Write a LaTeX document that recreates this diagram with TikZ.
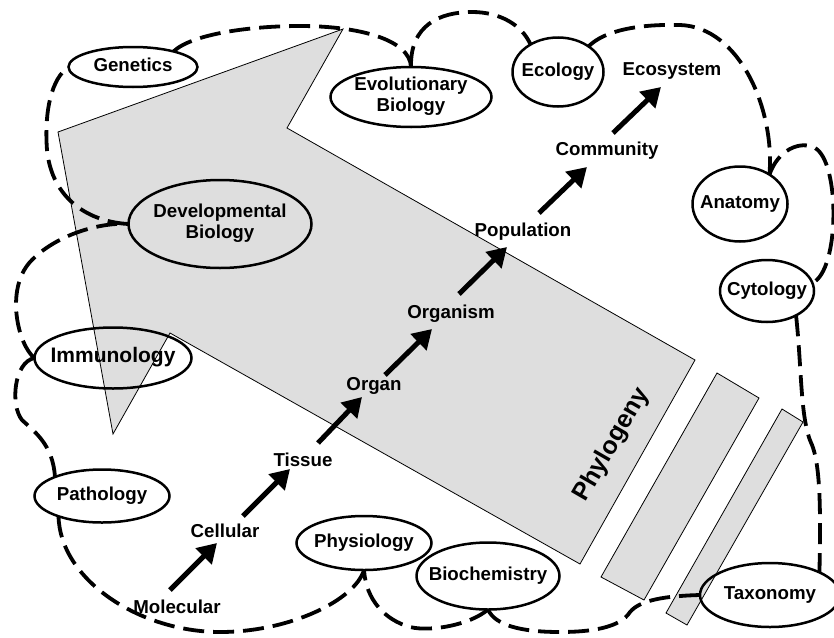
\documentclass[tikz,border=0pt]{standalone}
\usepackage{fontspec}
\setmainfont{Liberation Sans}
\usetikzlibrary{shapes.geometric,arrows.meta,calc}
\newcommand\ctext[1]{\makebox[0pt]{\begin{tabular}{@{}c@{}}#1\end{tabular}}}
\begin{document}
\begin{tikzpicture}[x=1pt,y=-1pt,
  oval/.style={ellipse,draw,line width=2.5pt,inner sep=0pt,outer sep=0pt,
    font=\bfseries\fontsize{18.7}{21}\selectfont},
  lvl/.style={font=\bfseries\fontsize{18.7}{21}\selectfont,inner sep=0pt},
  link/.style={line width=3.8pt,dash pattern=on 21pt off 9pt},
  up/.style={line width=5pt,-{Triangle[length=19pt,width=22pt]}},
  shade/.style={fill=black!13,draw=black,line width=0.8pt}
]
\useasboundingbox (0,0) rectangle (834,637);

% big arrow and bars
\draw[shade] (343,29) -- (287,128) -- (695,360) -- (580,564) -- (170,333) -- (113,434) -- (58,132) -- cycle;
\draw[shade] (717,373) -- (759,398) -- (644,600) -- (601,577) -- cycle;
\draw[shade] (782,409) -- (803,422) -- (687,625) -- (666,613) -- cycle;
\node[rotate=60,inner sep=0pt,font=\bfseries\fontsize{25}{28}\selectfont] (phylo) at (612,445) {Phylogeny};

% disciplines
\node[oval,minimum width=129pt,minimum height=40pt] (gen) at (133,67) {\ctext{Genetics}};
\node[oval,minimum width=161pt,minimum height=60pt] (evo) at (411,97) {\ctext{Evolutionary\\Biology}};
\node[oval,minimum width=91pt,minimum height=69pt] (eco) at (558,72) {\ctext{Ecology}};
\node[oval,minimum width=95pt,minimum height=75pt] (ana) at (740,204) {\ctext{Anatomy}};
\node[oval,minimum width=94pt,minimum height=62pt] (cyt) at (767,291) {\ctext{Cytology}};
\node[oval,minimum width=183pt,minimum height=88pt] (dev) at (220,224) {\ctext{Developmental\\Biology}};
\node[oval,minimum width=157pt,minimum height=61pt,font=\bfseries\fontsize{21}{23}\selectfont] (imm) at (113,358) {\ctext{Immunology}};
\node[oval,minimum width=135pt,minimum height=53pt] (pat) at (102,496) {\ctext{Pathology}};
\node[oval,minimum width=135pt,minimum height=54pt] (phy) at (364,543) {\ctext{Physiology}};
\node[oval,minimum width=143pt,minimum height=67pt] (bio) at (488,576) {\ctext{Biochemistry}};
\node[oval,minimum width=140pt,minimum height=64pt] (tax) at (770,595) {\ctext{Taxonomy}};

% levels
\node[lvl] (mol) at (177,607) {Molecular};
\node[lvl] (cel) at (225,531) {Cellular};
\node[lvl] (tis) at (303,460) {Tissue};
\node[lvl] (org) at (374,386) {Organ};
\node[lvl] (orgm) at (451,314) {Organism};
\node[lvl] (pop) at (523,232) {Population};
\node[lvl] (com) at (607,151) {Community};
\node[lvl] (ecs) at (672,71) {Ecosystem};

\draw[up] ($(mol)+(-7,-17)$) -- ($(cel)+(-8,12)$);
\draw[up] ($(cel)+(18,-15)$) -- ($(tis)+(-13,9)$);
\draw[up] ($(tis)+(15,-17)$) -- ($(org)+(-12,11)$);
\draw[up] ($(org)+(11,-11)$) -- ($(orgm)+(-19,15)$);
\draw[up] ($(orgm)+(8,-20)$) -- ($(pop)+(-16,15)$);
\draw[up] ($(pop)+(16,-19)$) -- ($(com)+(-20,16)$);
\draw[up] ($(com)+(6,-18)$) -- ($(ecs)+(-11,16)$);

% dashed cloud
\draw[link] (gen.21) .. controls (192,34) and (250,26) .. (300,26) .. controls (360,26) and (410,40) .. (evo.north);
\draw[link] (evo.north) .. controls (410,25) and (440,12) .. (472,12) .. controls (500,12) and (522,25) .. (eco.135);
\draw[link] (eco.40) .. controls (605,30) and (640,24) .. (680,25) .. controls (740,27) and (775,110) .. (ana.45);
\draw[link] (ana.45) .. controls (778,150) and (800,140) .. (815,148) .. controls (840,162) and (840,270) .. (cyt.10);
\draw[link] (cyt.-40) .. controls (802,370) and (800,420) .. (812,445) .. controls (822,470) and (820,530) .. (tax.north east);
\draw[link] (tax.west) .. controls (665,596) and (640,600) .. (630,612) .. controls (620,628) and (590,632) .. (560,632) .. controls (520,632) and (495,625) .. (bio.south);
\draw[link] (bio.south) .. controls (470,625) and (430,632) .. (410,627) .. controls (385,620) and (366,600) .. (phy.south);
\draw[link] (phy.south) .. controls (355,600) and (290,632) .. (220,632) .. controls (140,632) and (60,580) .. (pat.205);
\draw[link] (pat.158) .. controls (53,445) and (35,432) .. (22,420) .. controls (10,405) and (14,362) .. (imm.west);
\draw[link] (imm.west) .. controls (18,345) and (5,290) .. (30,262) .. controls (55,235) and (100,222) .. (dev.west);
\draw[link] (dev.west) .. controls (90,222) and (52,200) .. (47,150) .. controls (44,110) and (52,78) .. (gen.west);
\end{tikzpicture}
\end{document}
